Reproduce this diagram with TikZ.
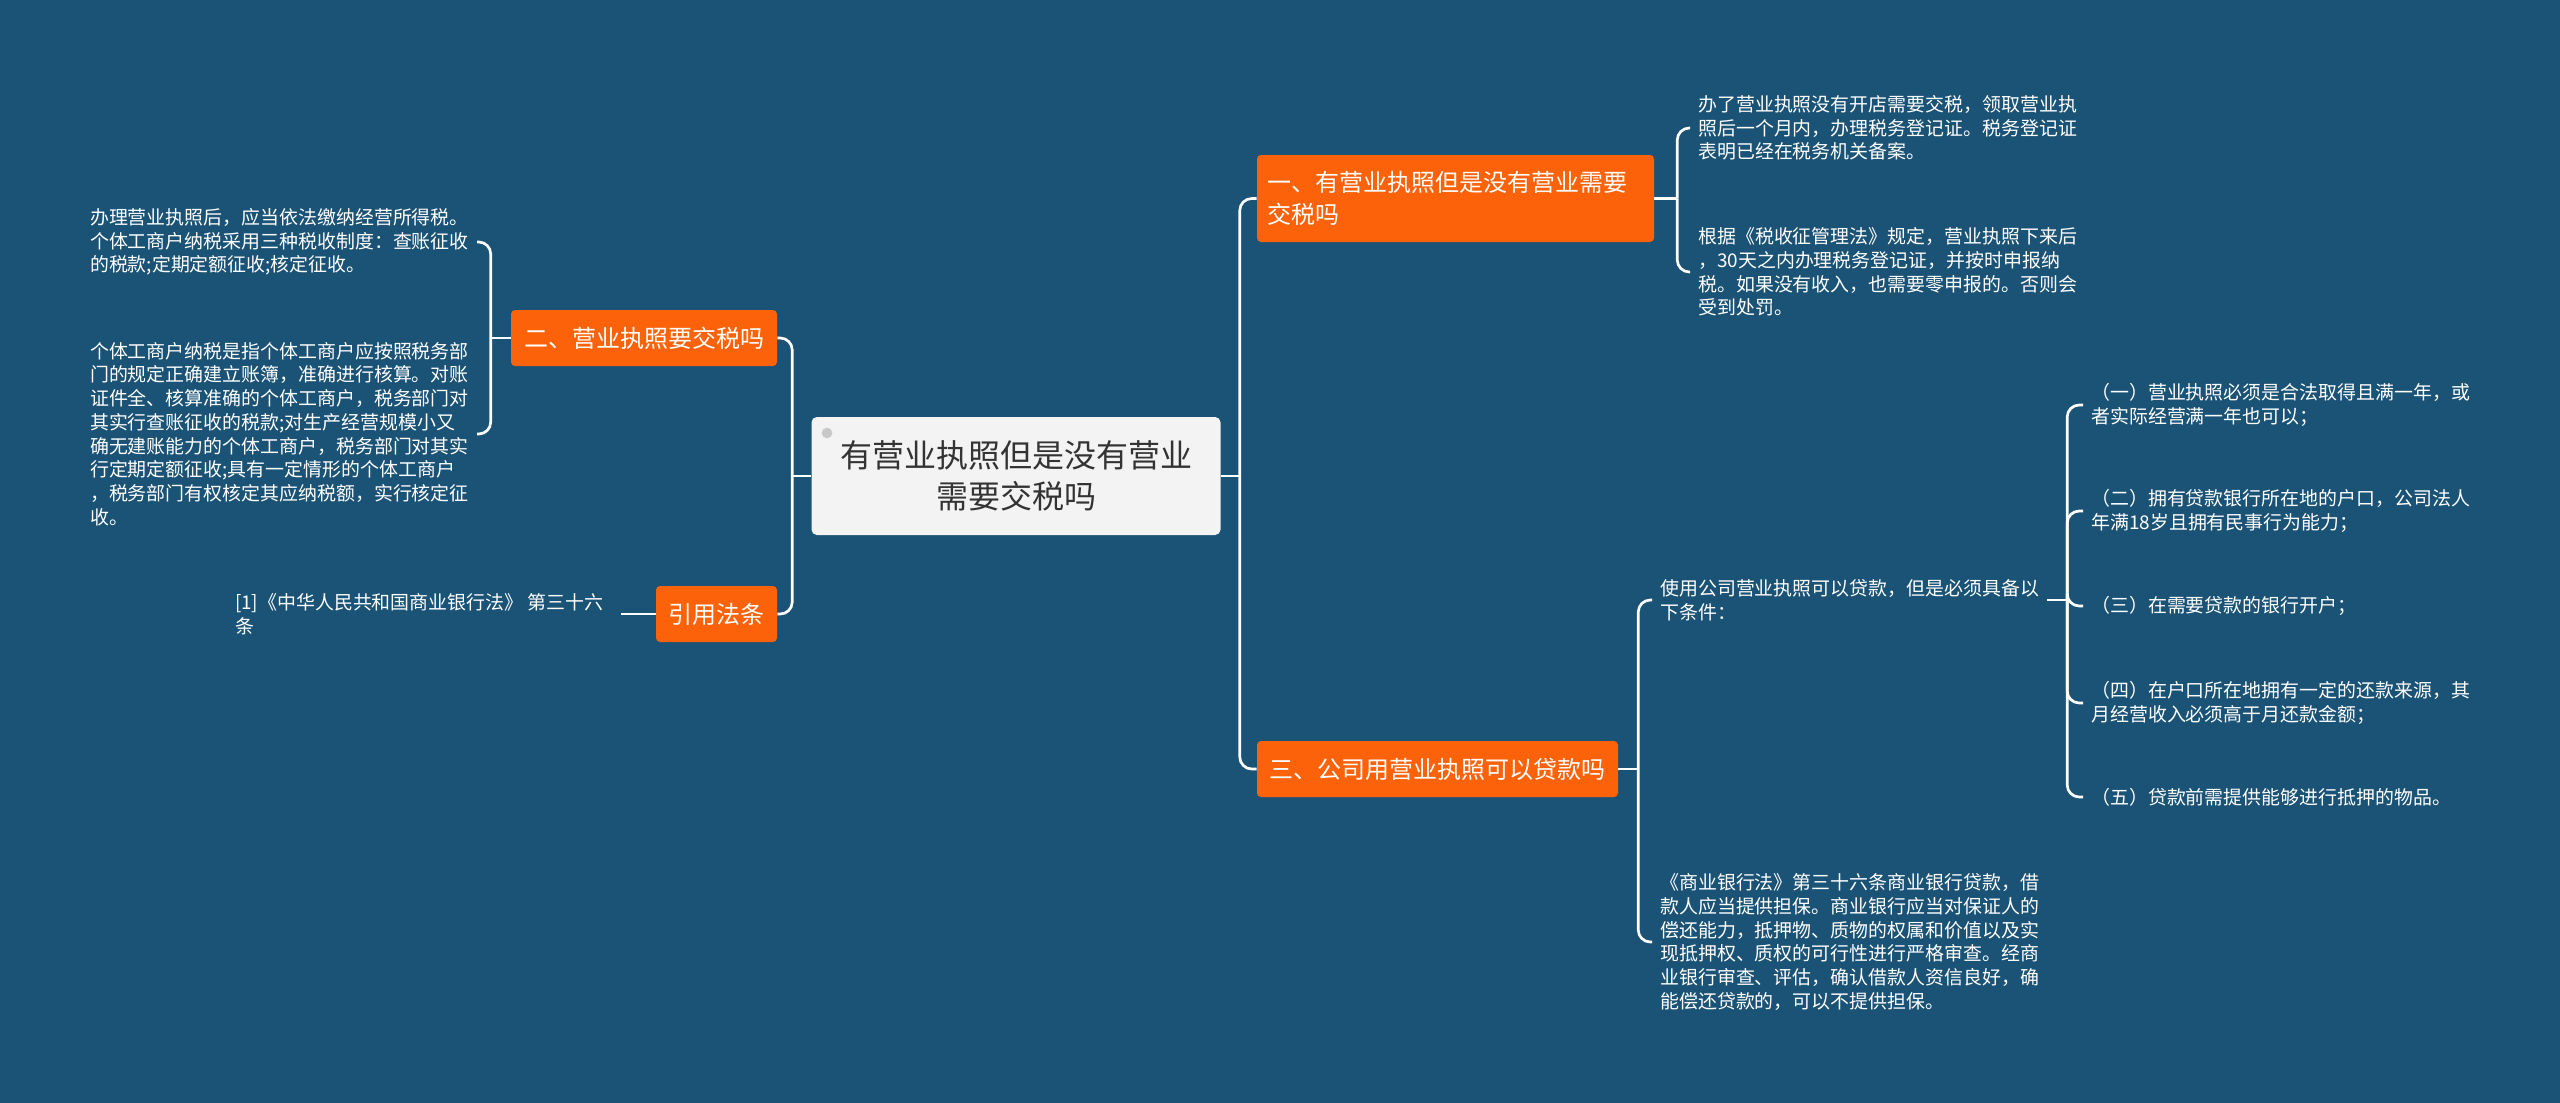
\documentclass[tikz,border=0pt]{standalone}
\usepackage{fontspec}
\setmainfont{Noto Sans CJK SC}
\definecolor{bgblue}{RGB}{27,83,119}
\definecolor{branchorange}{RGB}{251,98,10}
\definecolor{rootgray}{RGB}{243,243,243}
\definecolor{roottext}{RGB}{51,51,51}
\definecolor{dotgray}{RGB}{200,200,200}
\tikzset{
  rootbox/.style={fill=rootgray, rounded corners=4pt, minimum width=306.75pt, minimum height=88.5pt, align=center, text=roottext, font=\fontsize{24}{31}\selectfont},
  branchbox/.style={fill=branchorange, rounded corners=3pt, minimum height=42pt, text=white, align=left, font=\fontsize{18}{24}\selectfont},
  leaftext/.style={text=white, align=left, inner xsep=6pt, inner ysep=2pt, font=\fontsize{14.2}{17.8}\selectfont},
  link/.style={draw=white, line width=2pt},
  bracket/.style={link, rounded corners=9pt},
}
\begin{document}
\begin{tikzpicture}[x=0.75pt, y=-0.75pt]
  \fill[bgblue] (0,0) rectangle (2560,1103);
  \useasboundingbox (0,0) rectangle (2560,1103);
  \node[rootbox] (root) at (1016,476) {有营业执照但是没有营业\\需要交税吗};
  \fill[dotgray] (827,433) circle (4pt);
  \node[branchbox, inner xsep=7.5pt, text width=282.75pt, minimum height=65.25pt] (b1) at (1455.5,198.5) {一、有营业执照但是没有营业需要\\交税吗};
  \node[branchbox, minimum width=199.5pt] (b2) at (644,338) {二、营业执照要交税吗};
  \node[branchbox, minimum width=90.75pt] (cite) at (716.5,614) {引用法条};
  \node[branchbox, minimum width=270.75pt] (b3) at (1437.5,769) {三、公司用营业执照可以贷款吗};
  \node[leaftext, anchor=west] (l1a) at (1690,128) {办了营业执照没有开店需要交税，领取营业执\\照后一个月内，办理税务登记证。税务登记证\\表明已经在税务机关备案。};
  \node[leaftext, anchor=west] (l1b) at (1690,272) {根据《税收征管理法》规定，营业执照下来后\\，30天之内办理税务登记证，并按时申报纳\\税。如果没有收入，也需要零申报的。否则会\\受到处罚。};
  \node[leaftext, anchor=east] (l2a) at (477,242) {办理营业执照后，应当依法缴纳经营所得税。\\个体工商户纳税采用三种税收制度：查账征收\\的税款;定期定额征收;核定征收。};
  \node[leaftext, anchor=east] (l2b) at (477,434) {个体工商户纳税是指个体工商户应按照税务部\\门的规定正确建立账簿，准确进行核算。对账\\证件全、核算准确的个体工商户，税务部门对\\其实行查账征收的税款;对生产经营规模小又\\确无建账能力的个体工商户，税务部门对其实\\行定期定额征收;具有一定情形的个体工商户\\，税务部门有权核定其应纳税额，实行核定征\\收。};
  \node[leaftext, anchor=east, inner xsep=13pt] (lcite) at (621,614) {[1]《中华人民共和国商业银行法》 第三十六\\条};
  \node[leaftext, anchor=west] (l3a) at (1652,600) {使用公司营业执照可以贷款，但是必须具备以\\下条件：};
  \node[leaftext, anchor=west] (l3b) at (1652,942) {《商业银行法》第三十六条商业银行贷款，借\\款人应当提供担保。商业银行应当对保证人的\\偿还能力，抵押物、质物的权属和价值以及实\\现抵押权、质权的可行性进行严格审查。经商\\业银行审查、评估，确认借款人资信良好，确\\能偿还贷款的，可以不提供担保。};
  \node[leaftext, anchor=west] (c1) at (2083,405) {（一）营业执照必须是合法取得且满一年，或\\者实际经营满一年也可以；};
  \node[leaftext, anchor=west] (c2) at (2083,511) {（二）拥有贷款银行所在地的户口，公司法人\\年满18岁且拥有民事行为能力；};
  \node[leaftext, anchor=west] (c3) at (2083,606) {（三）在需要贷款的银行开户；};
  \node[leaftext, anchor=west] (c4) at (2083,703) {（四）在户口所在地拥有一定的还款来源，其\\月经营收入必须高于月还款金额；};
  \node[leaftext, anchor=west] (c5) at (2083,797) {（五）贷款前需提供能够进行抵押的物品。};
  \draw[link] (root.west) -- ++(-19,0) coordinate (lt);
  \draw[bracket] (lt) |- (b2.east);
  \draw[bracket] (lt) |- (cite.east);
  \draw[link] (root.east) -- ++(19,0) coordinate (rt);
  \draw[bracket] (rt) |- (b1.west);
  \draw[bracket] (rt) |- (b3.west);
  \draw[link] (b1.east) -- ++(23,0) coordinate (k1);
  \draw[bracket] (k1) |- (l1a.west);
  \draw[bracket] (k1) |- (l1b.west);
  \draw[link] (b2.west) -- ++(-20,0) coordinate (k2);
  \draw[bracket] (k2) |- (l2a.east);
  \draw[bracket] (k2) |- (l2b.east);
  \draw[link] (cite.west) -- (lcite.east);
  \draw[link] (b3.east) -- ++(20,0) coordinate (k3);
  \draw[bracket] (k3) |- (l3a.west);
  \draw[bracket] (k3) |- (l3b.west);
  \draw[link] (l3a.east) -- ++(20,0) coordinate (k4);
  \foreach \c in {c1,c2,c3,c4,c5}
    \draw[bracket] (k4) |- (\c.west);
\end{tikzpicture}
\end{document}
